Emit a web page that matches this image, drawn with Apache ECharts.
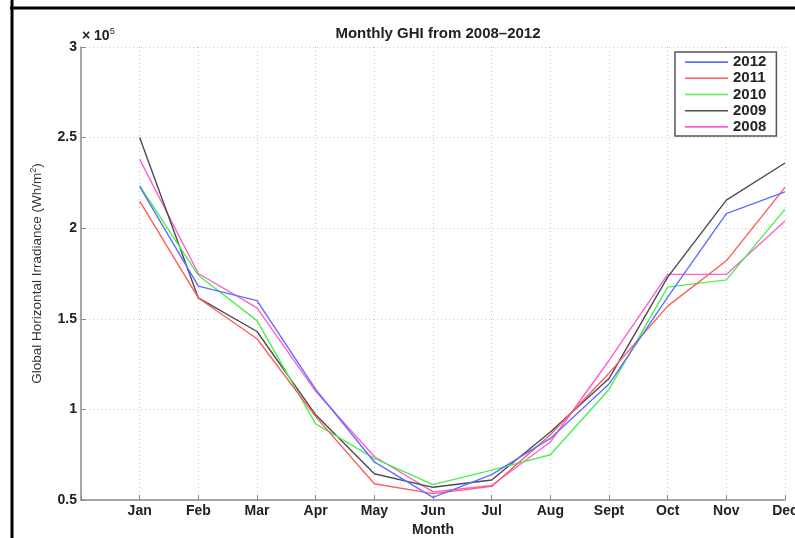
<!DOCTYPE html>
<html>
<head>
<meta charset="utf-8">
<script src="https://cdn.jsdelivr.net/npm/echarts@6/dist/echarts.min.js"></script>
<style>html,body{margin:0;padding:0;background:#fff;overflow:hidden}#c{width:795px;height:538px}</style>
</head>
<body>
<div id="c"></div>
<script>
const months = ["Jan","Feb","Mar","Apr","May","Jun","Jul","Aug","Sept","Oct","Nov","Dec"];
const yTicks = [50000, 100000, 150000, 200000, 250000, 300000];
const seriesNames = ["2012","2011","2010","2009","2008"];
const ghi2012 = [223000, 168000, 160000, 111000, 71000, 51500, 64000, 84000, 114000, 162000, 208000, 220000];
const ghi2011 = [215000, 161500, 139000, 96000, 59000, 53500, 57500, 86000, 120000, 157000, 182000, 222500];
const ghi2010 = [223500, 174000, 149000, 92000, 73000, 58500, 66500, 75000, 111000, 167500, 171500, 210500];
const ghi2009 = [250000, 161500, 143000, 97000, 64500, 57000, 61000, 87500, 117000, 173000, 215500, 236000];
const ghi2008 = [238000, 175000, 156000, 110000, 74000, 54500, 58000, 82000, 127000, 174500, 174500, 204000];
const colors = ["#5f6fff", "#ff5c5c", "#4cf04c", "#4a4a58", "#ff5fd0"];

const allData = [ghi2012, ghi2011, ghi2010, ghi2009, ghi2008];
const font = "Liberation Sans, Arial, Helvetica, sans-serif";
const lineIcon = 'path://M0,0L0.01,0L0.01,0.01Z M0,6.2L43,6.2L43,7.8L0,7.8Z M42.99,14L43,14L43,13.99Z';

const chart = echarts.init(document.getElementById('c'), null, {renderer: 'canvas', width: 795, height: 538});
const series = seriesNames.map((name, i) => ({
  name: name,
  type: 'line',
  symbol: 'none',
  data: allData[i].map((v, k) => [k + 1, v]),
  lineStyle: {color: colors[i], width: 1.4},
  itemStyle: {color: colors[i]},
  z: 10 - i,
  animation: false
}));

chart.setOption({
  animation: false,
  textStyle: {fontFamily: font},
  grid: {left: 81, right: 10, top: 47, bottom: 38, containLabel: false, outerBoundsMode: 'none'},
  title: {
    text: "Monthly GHI from 2008–2012",
    left: 433, top: 21, textAlign: 'center',
    textStyle: {fontFamily: font, fontSize: 15, fontWeight: 'bold', color: '#222'}
  },
  legend: {
    data: seriesNames.map(n => ({name: n, icon: lineIcon})),
    orient: 'vertical',
    left: 675, top: 52,
    padding: [2, 10, 1, 10],
    itemWidth: 43, itemHeight: 14, itemGap: 0,
    borderColor: '#555', borderWidth: 1.5,
    backgroundColor: '#fff',
    textStyle: {fontFamily: font, fontSize: 15, fontWeight: 'bold', color: '#222', lineHeight: 16.2}
  },
  xAxis: {
    type: 'value', min: 0, max: 12, interval: 1,
    name: 'Month', nameLocation: 'middle', nameGap: 15,
    nameTextStyle: {fontFamily: font, fontSize: 14, fontWeight: 'bold', color: '#222'},
    axisLine: {lineStyle: {color: '#8a8a8a', width: 1.5}},
    axisTick: {inside: true, length: 5, lineStyle: {color: '#8a8a8a'}},
    axisLabel: {
      fontFamily: font, fontSize: 14, fontWeight: 'bold', color: '#222', margin: 4,
      formatter: v => (v >= 1 && v <= 12) ? months[v - 1] : ''
    },
    splitLine: {show: true, lineStyle: {color: '#c8c8c8', type: [1, 3], width: 1}}
  },
  yAxis: {
    type: 'value', min: yTicks[0], max: yTicks[yTicks.length - 1], interval: 50000,
    name: 'Global Horizontal Irradiance (Wh/m{sup|2})',
    nameLocation: 'middle', nameGap: 36, nameRotate: 90,
    nameTextStyle: {fontFamily: font, fontSize: 13.5, color: '#333',
      rich: {sup: {fontSize: 9, verticalAlign: 'top', padding: [0,0,7,0], fontFamily: font, color: '#333'}}},
    axisLine: {show: true, lineStyle: {color: '#8a8a8a', width: 1.5}},
    axisTick: {show: true, inside: true, length: 5, lineStyle: {color: '#8a8a8a'}},
    axisLabel: {
      fontFamily: font, fontSize: 14, fontWeight: 'bold', color: '#222', margin: 4,
      formatter: v => String(v / 100000)
    },
    splitLine: {show: true, lineStyle: {color: '#c8c8c8', type: [1, 3], width: 1}}
  },
  graphic: [
    {type: 'line', shape: {x1: 12, y1: 0, x2: 12, y2: 538}, style: {stroke: '#000', lineWidth: 3}, silent: true},
    {type: 'line', shape: {x1: 10, y1: 8, x2: 795, y2: 8}, style: {stroke: '#000', lineWidth: 3}, silent: true},
    {type: 'text', left: 82, top: 27, style: {
      text: '× 10{s|5}', fontFamily: font, fontSize: 14, fontWeight: 'bold', fill: '#222',
      rich: {s: {fontSize: 9, fontFamily: font, fill: '#222', padding: [0,0,9,0]}}
    }}
  ],
  series: series
});
</script>
</body>
</html>
